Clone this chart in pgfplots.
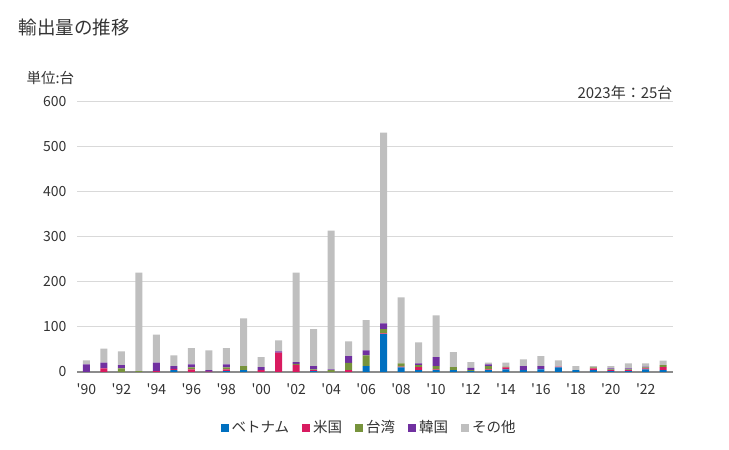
\documentclass[border=0pt]{standalone}
\usepackage{pgfplots}
\pgfplotsset{compat=1.18}
\usepackage{pgfplotstable}
\usepackage{fontspec}
\setmainfont{Noto Sans CJK JP}[Ligatures=TeXOff]
\definecolor{cvn}{HTML}{0070C0}
\definecolor{cus}{HTML}{D81B60}
\definecolor{ctw}{HTML}{77933C}
\definecolor{ckr}{HTML}{7030A0}
\definecolor{cot}{HTML}{BFBFBF}
\definecolor{txt}{HTML}{333333}
\definecolor{grd}{HTML}{D9D9D9}
\pgfplotstableread{
year vn us tw kr ot
1990 0 0 0 17 9
1991 0 8 0 13 31
1992 0 0 8 7 31
1993 0 0 2 0 219
1994 0 2 0 19 62
1995 4 3 0 6 24
1996 0 6 4 7 36
1997 0 1 0 3 44
1998 2 4 4 7 36
1999 4 0 9 0 106
2000 0 4 0 7 22
2001 0 43 0 3 24
2002 0 16 2 4 199
2003 2 2 2 7 82
2004 0 0 4 2 308
2005 0 4 16 15 33
2006 13 0 24 11 67
2007 84 2 9 13 424
2008 10 2 7 0 147
2009 4 7 4 4 47
2010 4 2 7 20 93
2011 4 0 7 0 33
2012 2 0 2 5 13
2013 4 2 7 4 4
2014 6 4 2 0 9
2015 4 0 0 9 15
2016 6 0 0 7 22
2017 10 2 0 0 14
2018 4 0 0 0 9
2019 4 4 2 0 3
2020 2 2 2 2 5
2021 2 2 2 2 11
2022 6 2 2 2 7
2023 4 7 4 0 10
}\datatable
\begin{document}
\begin{tikzpicture}[x=1pt,y=1pt]
\path (0,0) rectangle (729,450);
\node[anchor=west,text=txt,font=\fontsize{18.5}{20}\selectfont] at (15,423) {輸出量の推移};
\node[anchor=west,text=txt,font=\fontsize{14.5}{16}\selectfont] at (23,372) {単位:台};
\node[anchor=east,text=txt,font=\fontsize{15}{17}\selectfont] at (676,357) {2023年：25台};
\begin{axis}[
  at={(77pt,78pt)}, anchor=south west,
  scale only axis, width=596pt, height=270pt,
  ybar stacked, bar width=7pt,
  xmin=1989.46, xmax=2023.56,
  ymin=0, ymax=600,
  ytick={0,100,...,600},
  xtick={1990,1992,...,2022},
  xticklabels={'90,'92,'94,'96,'98,'00,'02,'04,'06,'08,'10,'12,'14,'16,'18,'20,'22},
  ymajorgrids=true, xmajorgrids=false,
  major grid style={draw=grd, line width=1pt},
  axis x line*=bottom, axis y line*=left,
  y axis line style={draw=none},
  x axis line style={draw=black!45, line width=1.2pt, -},
  xtick style={draw=none}, ytick style={draw=none},
  tick label style={text=txt, font=\fontsize{14}{16}\selectfont},
  /pgf/number format/assume math mode=true,
  yticklabel style={xshift=-7pt},
  xticklabel style={yshift=-8pt},
  legend columns=5,
  legend style={at={(0.49,-0.165)}, anchor=north, draw=none, fill=none,
    font=\fontsize{14.5}{16}\selectfont, text=txt,
    /tikz/every odd column/.append style={column sep=1pt},
    /tikz/every even column/.append style={column sep=11pt}},
  legend image code/.code={\fill[#1] (0pt,-4pt) rectangle (8pt,4pt);},
]
\addplot[fill=cvn, draw=none] table[x=year,y=vn]{\datatable};
\addplot[fill=cus, draw=none] table[x=year,y=us]{\datatable};
\addplot[fill=ctw, draw=none] table[x=year,y=tw]{\datatable};
\addplot[fill=ckr, draw=none] table[x=year,y=kr]{\datatable};
\addplot[fill=cot, draw=none] table[x=year,y=ot]{\datatable};
\legend{ベトナム,米国,台湾,韓国,その他}
\end{axis}
\end{tikzpicture}
\end{document}
